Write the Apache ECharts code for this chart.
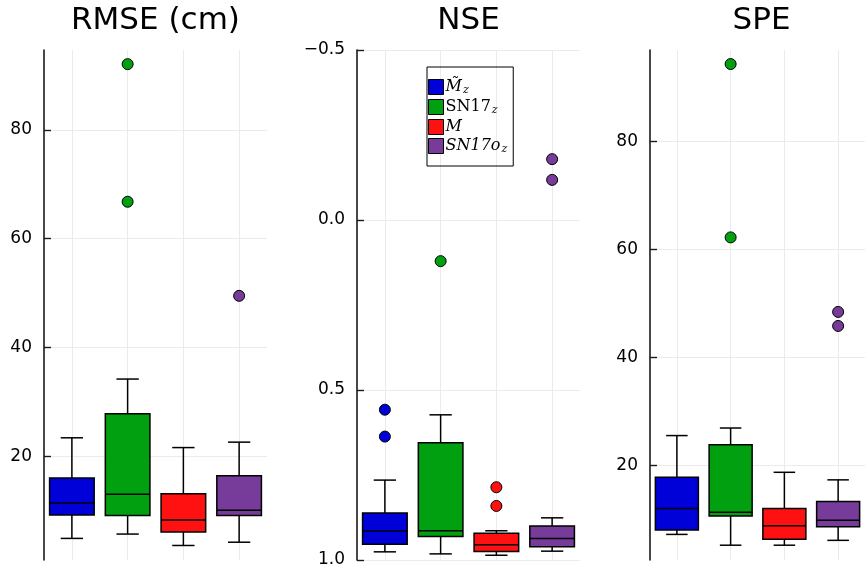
<!DOCTYPE html>
<html>
<head>
<meta charset="utf-8">
<script src="https://cdn.jsdelivr.net/npm/echarts@6/dist/echarts.min.js"></script>
<style>
  html, body { margin: 0; padding: 0; background: #fff; }
  #chart { width: 865px; height: 572px; }
</style>
</head>
<body>
<div id="chart"></div>
<script>
// group names (legend) and colours
const groups = ['Mz', 'SN17z', 'M', 'SN17oz'];
const colors = ['#0000d8', '#00a010', '#ff1111', '#773b9a'];

// box stats per group: [min, q1, median, q3, max]
const rmseStats = [
  [4.9, 9.2, 11.4, 16.0, 23.4],
  [5.7, 9.1, 13.0, 27.8, 34.2],
  [3.6, 6.1, 8.3, 13.1, 21.6],
  [4.2, 9.1, 10.1, 16.4, 22.6]
];
const rmseOutliers = [[], [92.1, 66.8], [], [49.5]];

const nseStats = [
  [0.765, 0.862, 0.915, 0.954, 0.976],
  [0.573, 0.655, 0.914, 0.931, 0.982],
  [0.914, 0.921, 0.955, 0.975, 0.986],
  [0.876, 0.900, 0.937, 0.961, 0.974]
];
const nseOutliers = [[0.558, 0.637], [0.121], [0.786, 0.841], [-0.179, -0.118]];

const speStats = [
  [7.2, 8.0, 12.0, 17.8, 25.5],
  [5.2, 10.6, 11.3, 23.8, 26.9],
  [5.2, 6.3, 8.8, 12.0, 18.7],
  [6.1, 8.6, 9.8, 13.3, 17.3]
];
const speOutliers = [[], [94.3, 62.2], [], [48.4, 45.8]];

// tick labels
const rmseTicks = [20, 40, 60, 80];
const nseTicks = [-0.5, 0.0, 0.5, 1.0];
const speTicks = [20, 40, 60, 80];
const xPositions = [0, 1, 2, 3];

const titles = ['RMSE (cm)', 'NSE', 'SPE'];

const panels = [
  { stats: rmseStats, outliers: rmseOutliers, ticks: rmseTicks, min: 0.93, max: 94.7, inverse: false },
  { stats: nseStats, outliers: nseOutliers, ticks: nseTicks, min: -0.5, max: 1.0, inverse: true },
  { stats: speStats, outliers: speOutliers, ticks: speTicks, min: 2.46, max: 96.9, inverse: false }
];

const gridLefts = [44, 357, 650];
const gridWidth = 223;

function renderBox(params, api) {
  const x = api.value(0);
  const lo = api.coord([x, api.value(1)]);
  const q1 = api.coord([x, api.value(2)]);
  const md = api.coord([x, api.value(3)]);
  const q3 = api.coord([x, api.value(4)]);
  const hi = api.coord([x, api.value(5)]);
  const w = api.size([0.8, 0])[0];
  const cx = lo[0];
  const cap = w / 4;
  const line = { stroke: '#000', lineWidth: 1.5 };
  return {
    type: 'group',
    children: [
      { type: 'line', shape: { x1: cx, y1: hi[1], x2: cx, y2: q3[1] }, style: line },
      { type: 'line', shape: { x1: cx, y1: lo[1], x2: cx, y2: q1[1] }, style: line },
      { type: 'line', shape: { x1: cx - cap, y1: hi[1], x2: cx + cap, y2: hi[1] }, style: line },
      { type: 'line', shape: { x1: cx - cap, y1: lo[1], x2: cx + cap, y2: lo[1] }, style: line },
      {
        type: 'rect',
        shape: { x: cx - w / 2, y: Math.min(q1[1], q3[1]), width: w, height: Math.abs(q1[1] - q3[1]) },
        style: { fill: api.visual('color'), stroke: '#000', lineWidth: 1.5 }
      },
      { type: 'line', shape: { x1: cx - w / 2, y1: md[1], x2: cx + w / 2, y2: md[1] }, style: line }
    ]
  };
}

const fmtTick = v => (v < 0 ? '\u2212' : '') + (Number.isInteger(v) && Math.abs(v) >= 10 ? Math.abs(v) : Math.abs(v).toFixed(1));

const option = {
  animation: false,
  backgroundColor: '#fff',
  title: titles.map((t, i) => ({
    text: t,
    left: gridLefts[i] + gridWidth / 2 - 5,
    top: 0,
    textAlign: 'center',
    textStyle: { fontFamily: 'DejaVu Sans', fontSize: 31, fontWeight: 'normal', color: '#000' }
  })),
  legend: {
    data: groups,
    orient: 'vertical',
    left: 427,
    top: 67,
    itemWidth: 15,
    itemHeight: 15,
    itemGap: 3,
    padding: [12, 6, 11, 1],
    borderColor: '#000',
    borderWidth: 1,
    icon: 'rect',
    itemStyle: { borderColor: '#000', borderWidth: 1 },
    formatter: name => ({
      'Mz': '{it|M\u0303}{sub|z}',
      'SN17z': '{rm|SN17}{sub|z}',
      'M': '{it|M}',
      'SN17oz': '{it|SN17o}{sub|z}'
    })[name],
    textStyle: {
      padding: [0, 0, 0, -3],
      rich: {
        it: { fontFamily: 'DejaVu Serif', fontStyle: 'italic', fontSize: 16, color: '#000' },
        rm: { fontFamily: 'DejaVu Serif', fontSize: 16, color: '#000' },
        sub: { fontFamily: 'DejaVu Serif', fontStyle: 'italic', fontSize: 11, color: '#000', padding: [7, 0, 0, 1] }
      }
    }
  },
  grid: gridLefts.map(l => ({ left: l, top: 50, width: gridWidth, height: 510 })),
  xAxis: panels.map((p, i) => ({
    type: 'value',
    gridIndex: i,
    min: -0.5,
    max: 3.5,
    axisLine: { show: false },
    axisLabel: { show: false },
    axisTick: { show: false, customValues: xPositions },
    splitLine: { show: true, lineStyle: { color: '#ebebeb', width: 1 } }
  })),
  yAxis: panels.map((p, i) => ({
    type: 'value',
    gridIndex: i,
    min: p.min,
    max: p.max,
    inverse: p.inverse,
    axisLine: { show: true, onZero: false, lineStyle: { color: '#1a1a1a', width: 1.6 } },
    axisTick: { show: true, inside: true, length: 7, customValues: p.ticks, lineStyle: { color: '#1a1a1a', width: 1.4 } },
    axisLabel: {
      customValues: p.ticks,
      formatter: fmtTick,
      fontFamily: 'DejaVu Sans',
      fontSize: 17,
      color: '#000',
      margin: 12
    },
    splitLine: { show: true, lineStyle: { color: '#ebebeb', width: 1 } }
  })),
  series: []
};

panels.forEach((p, pi) => {
  groups.forEach((g, gi) => {
    option.series.push({
      type: 'custom',
      name: g,
      xAxisIndex: pi,
      yAxisIndex: pi,
      renderItem: renderBox,
      itemStyle: { color: colors[gi] },
      encode: { x: 0, y: [1, 2, 3, 4, 5] },
      data: [[xPositions[gi]].concat(p.stats[gi])],
      z: 3
    });
    option.series.push({
      type: 'scatter',
      name: g,
      xAxisIndex: pi,
      yAxisIndex: pi,
      symbolSize: 11,
      itemStyle: { color: colors[gi], borderColor: '#000', borderWidth: 1, opacity: 1 },
      data: p.outliers[gi].map(v => [xPositions[gi], v]),
      z: 4
    });
  });
});

const chart = echarts.init(document.getElementById('chart'));
chart.setOption(option);
</script>
</body>
</html>
